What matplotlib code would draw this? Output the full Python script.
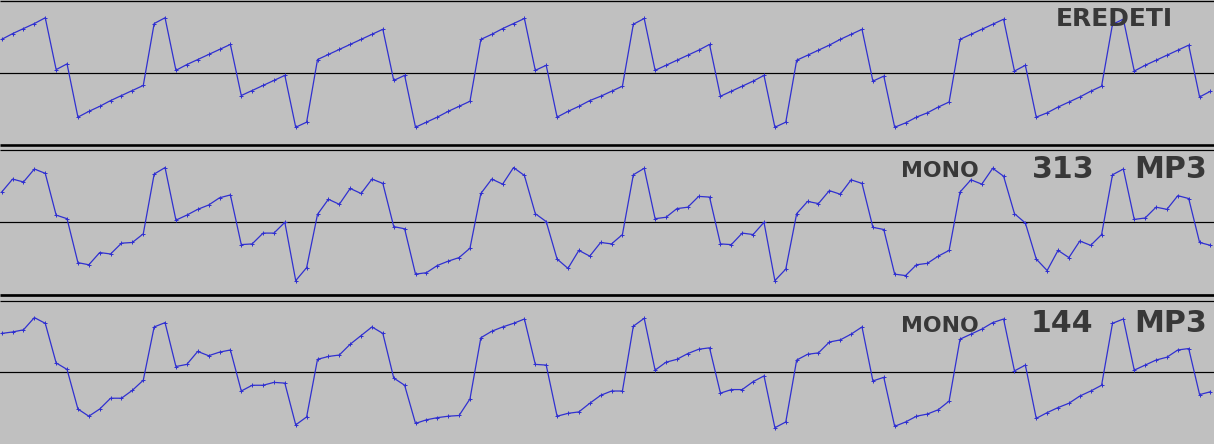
import numpy as np
import matplotlib
matplotlib.use("Agg")
import matplotlib.pyplot as plt
from matplotlib.lines import Line2D

# Sample amplitudes (-1..1) read from the three tracks
eredeti = [0.46, 0.54, 0.61, 0.68, 0.76, 0.04, 0.12, -0.62, -0.54, -0.47,
           -0.39, -0.32, -0.25, -0.18, 0.68, 0.76, 0.03, 0.11, 0.18, 0.25,
           0.32, 0.39, -0.32, -0.25, -0.18, -0.11, -0.04, -0.76, -0.69, 0.18,
           0.25, 0.32, 0.39, 0.46, 0.53, 0.60, -0.11, -0.04, -0.76, -0.69,
           -0.62, -0.54, -0.47, -0.40, 0.46, 0.53, 0.61, 0.68, 0.75, 0.03,
           0.10, -0.62, -0.54, -0.47, -0.39, -0.33, -0.26, -0.19, 0.67, 0.75,
           0.03, 0.10, 0.17, 0.24, 0.31, 0.39, -0.33, -0.26, -0.19, -0.12,
           -0.04, -0.76, -0.69, 0.17, 0.24, 0.31, 0.38, 0.46, 0.53, 0.60,
           -0.12, -0.05, -0.76, -0.70, -0.62, -0.56, -0.48, -0.41, 0.46, 0.53,
           0.60, 0.67, 0.74, 0.02, 0.10, -0.62, -0.56, -0.48, -0.41, -0.34,
           -0.26, -0.19, 0.67, 0.74, 0.02, 0.10, 0.17, 0.24, 0.31, 0.38,
           -0.34, -0.26]

mono_313 = [0.42, 0.60, 0.56, 0.74, 0.68, 0.10, 0.05, -0.56, -0.59, -0.42,
            -0.44, -0.29, -0.28, -0.16, 0.67, 0.76, 0.03, 0.10, 0.18, 0.24,
            0.34, 0.38, -0.31, -0.30, -0.15, -0.15, 0.00, -0.81, -0.63, 0.11,
            0.32, 0.25, 0.47, 0.40, 0.60, 0.54, -0.06, -0.09, -0.72, -0.70,
            -0.60, -0.54, -0.49, -0.36, 0.40, 0.60, 0.53, 0.76, 0.65, 0.12,
            0.01, -0.51, -0.64, -0.39, -0.47, -0.28, -0.30, -0.17, 0.66, 0.75,
            0.05, 0.07, 0.19, 0.21, 0.36, 0.35, -0.30, -0.31, -0.15, -0.17,
            0.00, -0.81, -0.65, 0.12, 0.29, 0.26, 0.44, 0.39, 0.59, 0.54,
            -0.07, -0.10, -0.72, -0.74, -0.59, -0.57, -0.47, -0.39, 0.42, 0.59,
            0.53, 0.75, 0.64, 0.12, -0.01, -0.51, -0.67, -0.39, -0.49, -0.26,
            -0.32, -0.17, 0.66, 0.74, 0.04, 0.06, 0.21, 0.18, 0.37, 0.33,
            -0.28, -0.32]

mono_144 = [0.54, 0.56, 0.59, 0.76, 0.68, 0.13, 0.04, -0.51, -0.61, -0.51,
            -0.36, -0.36, -0.25, -0.11, 0.63, 0.69, 0.08, 0.11, 0.29, 0.23,
            0.28, 0.31, -0.26, -0.18, -0.18, -0.14, -0.15, -0.73, -0.62, 0.18,
            0.22, 0.24, 0.39, 0.51, 0.63, 0.54, -0.08, -0.18, -0.71, -0.66,
            -0.63, -0.61, -0.60, -0.37, 0.48, 0.57, 0.63, 0.68, 0.74, 0.11,
            0.10, -0.61, -0.57, -0.55, -0.43, -0.32, -0.26, -0.26, 0.64, 0.75,
            0.03, 0.14, 0.18, 0.26, 0.32, 0.34, -0.29, -0.24, -0.24, -0.13,
            -0.05, -0.77, -0.69, 0.17, 0.25, 0.27, 0.42, 0.45, 0.53, 0.63,
            -0.12, -0.07, -0.75, -0.69, -0.61, -0.58, -0.52, -0.40, 0.46, 0.53,
            0.60, 0.69, 0.74, 0.02, 0.10, -0.64, -0.56, -0.49, -0.43, -0.33,
            -0.26, -0.18, 0.68, 0.74, 0.03, 0.10, 0.17, 0.21, 0.31, 0.33,
            -0.31, -0.27]

tracks = [eredeti, mono_313, mono_144]

W, H = 1214, 444
BG = "#c0c0c0"
WAVE = "#3030d0"
TXT = "#383838"
PX = 72.0 / 100.0  # points per pixel

fig = plt.figure(figsize=(W / 100, H / 100), dpi=100, facecolor=BG)

# panel extents in pixels (top, bottom)
panels = [(0.5, 144.5), (150.3, 294.3), (300.3, 444.3)]
x0, dx = 1.7, 10.89
xlim = (-x0 / dx, (W - x0) / dx)

for (top, bot), vals in zip(panels, tracks):
    ax = fig.add_axes([0, 1 - bot / H, 1, (bot - top) / H])
    ax.set_facecolor(BG)
    ax.set_xlim(xlim)
    ax.set_ylim(-1, 1)
    ax.axhline(0, color="black", lw=1.2 * PX, zorder=1)
    xs = np.arange(len(vals))
    ax.plot(xs, vals, color=WAVE, lw=1.25 * PX, marker="+", ms=3.4,
            mew=1.0 * PX, zorder=2, clip_on=True)
    ax.axis("off")

# separator lines (pixel positions)
def hline(ypx, wpx):
    y = 1 - ypx / H
    fig.add_artist(Line2D([0, 1], [y, y], transform=fig.transFigure,
                          color="black", lw=wpx * PX, solid_capstyle="butt"))

hline(0.6, 1.3)
hline(145.5, 2.6)
hline(150.3, 1.2)
hline(294.7, 2.7)
hline(300.5, 1.2)

def t(xpx, ypx, s, size_px, ha="center"):
    fig.text(xpx / W, 1 - ypx / H, s, ha=ha, va="baseline",
             fontsize=size_px * PX, color=TXT, fontweight="bold",
             family="DejaVu Sans")

# labels
t(1114, 26, "EREDETI", 25)
t(940, 177, "MONO", 22)
t(1063, 178, "313", 30)
t(1171, 178, "MP3", 30)
t(940, 331.5, "MONO", 22)
t(1062, 332, "144", 30)
t(1171, 332, "MP3", 30)

fig.savefig("out.png", dpi=100, facecolor=BG)
